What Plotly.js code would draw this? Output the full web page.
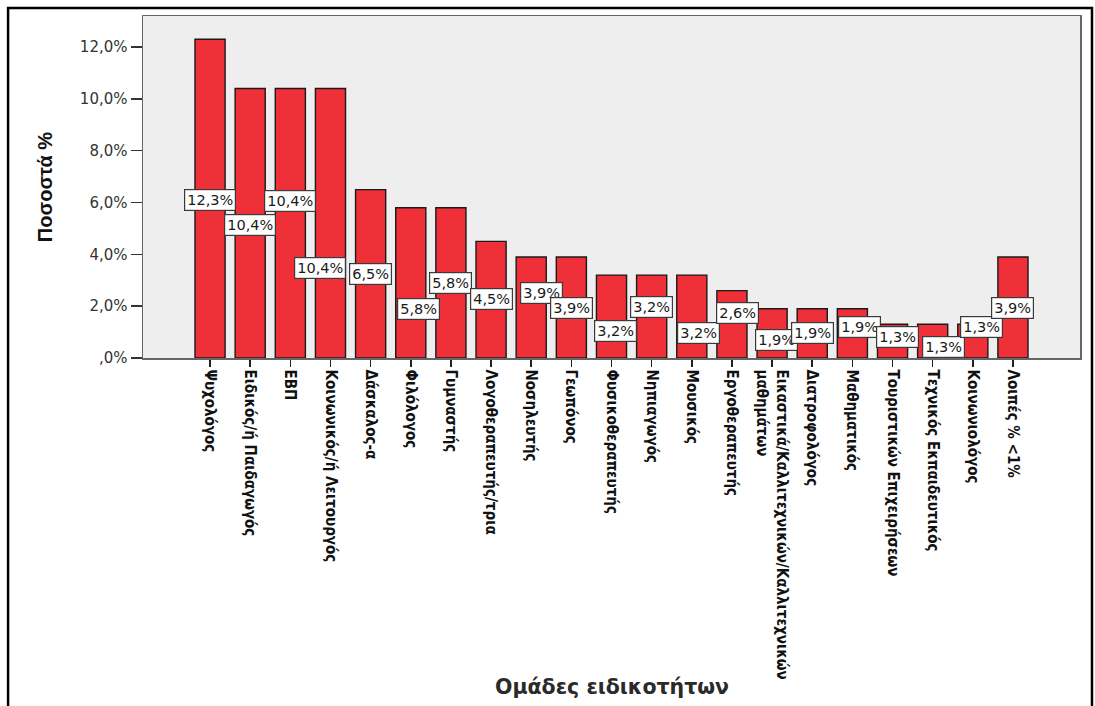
<!DOCTYPE html>
<html>
<head>
<meta charset="utf-8">
<script src="https://cdn.plot.ly/plotly-3.0.1.min.js"></script>
<style>
  html, body { margin: 0; padding: 0; background: #ffffff; }
  #chart { width: 1095px; height: 706px; }
</style>
</head>
<body>
<div id="chart"></div>
<script>
// Specialty groups and their share (%)
const specialties = [
  "Ψυχολόγος",
  "Ειδικός/ή Παιδαγωγός",
  "ΕΒΠ",
  "Κοινωνικός/ή Λειτουργός",
  "Δάσκαλος-α",
  "Φιλόλογος",
  "Γυμναστής",
  "Λογοθεραπευτής/τρια",
  "Νοσηλευτής",
  "Γεωπόνος",
  "Φυσικοθεραπευτής",
  "Νηπιαγωγός",
  "Μουσικός",
  "Εργοθεραπευτής",
  "Εικαστικά/Καλλιτεχνικών/Καλλιτεχνικών<br>μαθημάτων",
  "Διατροφολόγος",
  "Μαθηματικός",
  "Τουριστικών Επιχειρήσεων",
  "Τεχνικός Εκπαιδευτικός",
  "Κοινωνιολόγος",
  "Λοιπές % <1%"
];
const percentages = [12.3, 10.4, 10.4, 10.4, 6.5, 5.8, 5.8, 4.5, 3.9, 3.9, 3.2, 3.2, 3.2, 2.6, 1.9, 1.9, 1.9, 1.3, 1.3, 1.3, 3.9];

// Y-axis ticks
const yTickValues = [0, 2, 4, 6, 8, 10, 12];
const yTickLabels = [",0%", "2,0%", "4,0%", "6,0%", "8,0%", "10,0%", "12,0%"];

// Value-label placement (height in axis units, sideways nudge in categories)
const labelHeight = [6.1, 5.13, 6.06, 3.47, 3.24, 1.89, 2.89, 2.28, 2.51, 1.93, 1.04, 1.97, 0.96, 1.74, 0.69, 0.96, 1.2, 0.81, 0.42, 1.2, 1.93];
const labelNudge = [0, 0, 0, -0.27, 0, 0.2, 0, 0, 0.25, 0, 0.1, 0, 0.17, 0.15, 0.1, 0, 0.17, 0.12, 0.27, 0.22, 0];

const fmt = v => v.toFixed(1).replace('.', ',') + '%';

const bars = {
  type: 'bar',
  x: specialties,
  y: percentages,
  width: 0.75,
  marker: { color: '#ef3039', line: { color: '#1a1a1a', width: 1.4 } },
  hoverinfo: 'x+y'
};

const valueLabels = percentages.map((v, i) => ({
  x: i + labelNudge[i],
  y: labelHeight[i],
  xref: 'x', yref: 'y',
  text: fmt(v),
  showarrow: false,
  bgcolor: '#ffffff',
  bordercolor: '#3a3a3a',
  borderwidth: 1.2,
  borderpad: 2,
  font: { family: 'DejaVu Sans, Verdana, sans-serif', size: 14.5, color: '#1a1a1a' }
}));

const layout = {
  width: 1095,
  height: 706,
  margin: { l: 143, r: 15, t: 16, b: 348 },
  paper_bgcolor: '#ffffff',
  plot_bgcolor: '#eeeeee',
  showlegend: false,
  xaxis: {
    type: 'category',
    range: [-1.67, 21.67],
    showgrid: false,
    zeroline: false,
    showline: true,
    mirror: true,
    linecolor: '#666666',
    linewidth: 1.5,
    ticks: 'outside',
    ticklen: 7,
    tickwidth: 1.5,
    tickcolor: '#222222',
    tickangle: 90,
    tickfont: { family: 'Liberation Sans Narrow, DejaVu Sans Condensed, Arial Narrow, sans-serif', size: 15, weight: 'bold', color: '#111111' },
    automargin: false
  },
  yaxis: {
    range: [0, 13.2],
    tickvals: yTickValues,
    ticktext: yTickLabels,
    showgrid: false,
    zeroline: false,
    showline: true,
    mirror: true,
    linecolor: '#666666',
    linewidth: 1.5,
    ticks: 'outside',
    ticklen: 11,
    tickwidth: 1.5,
    tickcolor: '#333333',
    tickfont: { family: 'DejaVu Sans, Verdana, sans-serif', size: 15, color: '#333333' },
    title: {
      text: '<b>Ποσοστά %</b>',
      font: { family: 'Liberation Sans, Arial, sans-serif', size: 20, color: '#111111' },
      standoff: 22
    },
    automargin: false
  },
  annotations: valueLabels.concat([{
    xref: 'paper', yref: 'paper',
    x: 0.5005, y: -0.962,
    xanchor: 'center', yanchor: 'middle',
    text: 'Ομάδες ειδικοτήτων',
    showarrow: false,
    font: { family: 'DejaVu Sans, Verdana, sans-serif', size: 20.5, weight: 600, color: '#2a2a2a' }
  }]),
  shapes: [{
    type: 'rect',
    xref: 'paper', yref: 'paper',
    x0: -0.144, x1: 1.0128,
    y0: -1.08, y1: 1.0234,
    line: { color: '#000000', width: 2.5 },
    fillcolor: 'rgba(0,0,0,0)',
    layer: 'below'
  }]
};

Plotly.newPlot('chart', [bars], layout, { displayModeBar: false, staticPlot: true });
</script>
</body>
</html>
